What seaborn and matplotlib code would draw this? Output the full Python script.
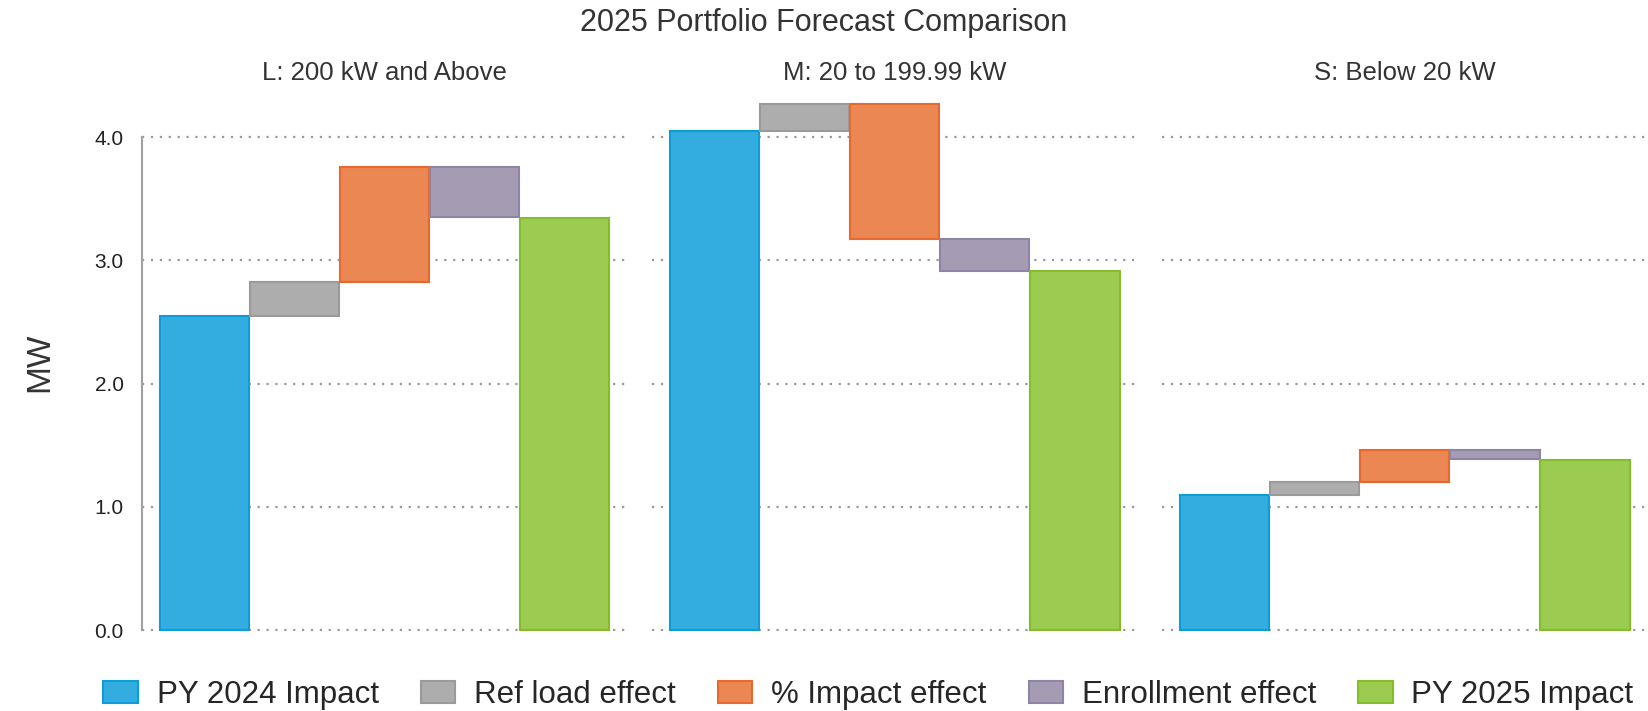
import numpy as np
import pandas as pd
import seaborn as sns
import matplotlib.pyplot as plt
from matplotlib.patches import Patch

# data (MW)
panels = ['L: 200 kW and Above', 'M: 20 to 199.99 kW', 'S: Below 20 kW']
steps = ['PY 2024 Impact', 'Ref load effect', '% Impact effect', 'Enrollment effect', 'PY 2025 Impact']
py2024 = [2.55, 4.05, 1.10]
ref_load = [0.27, 0.22, 0.10]
pct_impact = [0.94, -1.10, 0.26]
enrollment = [-0.41, -0.26, -0.07]
py2025 = [3.34, 2.91, 1.38]

fills = ['#33addf', '#adadad', '#eb8753', '#a59cb4', '#9bcb50']
edges = ['#0a9dd9', '#9a9a9a', '#e8692d', '#8e84a6', '#84bd2a']

sns.set_theme(style='white')
plt.rcParams['font.family'] = ['Liberation Sans', 'DejaVu Sans']

# waterfall table: base + height for each step
rows = []
for i, p in enumerate(panels):
    level = py2024[i]
    rows.append((p, steps[0], 0.0, py2024[i]))
    for s, d in zip(steps[1:4], [ref_load[i], pct_impact[i], enrollment[i]]):
        rows.append((p, s, min(level, level + d), abs(d)))
        level += d
    rows.append((p, steps[4], 0.0, py2025[i]))
df = pd.DataFrame(rows, columns=['panel', 'step', 'base', 'height'])

fig, axes = plt.subplots(1, 3, figsize=(16.48, 7.11), dpi=100, sharey=True)
fig.subplots_adjust(left=0.086, right=1.0, bottom=0.112, top=0.868, wspace=0.049)

for ax, p in zip(axes, panels):
    sub = df[df['panel'] == p]
    for k, s in enumerate(steps):
        r = sub[sub['step'] == s].iloc[0]
        sns.barplot(x=[s], y=[r['height']], order=steps, bottom=r['base'],
                    color=fills[k], saturation=1, edgecolor=edges[k],
                    linewidth=1.5, width=0.99, ax=ax)
    ax.set_xlim(-0.7, 4.7)
    ax.set_ylim(-0.01, 4.35)
    ax.set_yticks([0, 1, 2, 3, 4])
    ax.yaxis.grid(True, color='#999999', linestyle=(0, (1, 3)), linewidth=1.6)
    ax.set_axisbelow(True)
    ax.set_xticks([])
    ax.set_xlabel('')
    ax.set_ylabel('')
    ax.set_title(p, fontsize=18.5, color='#333333', pad=10)
    for sp in ax.spines.values():
        sp.set_visible(False)
    ax.tick_params(axis='y', length=0)

ax0 = axes[0]
ax0.spines['left'].set_visible(True)
ax0.spines['left'].set_color('#a0a0a0')
ax0.spines['left'].set_linewidth(1.5)
ax0.spines['left'].set_bounds(0, 4)
ax0.yaxis.set_major_formatter(plt.FormatStrFormatter('%.1f'))
ax0.tick_params(axis='y', length=11, width=1.2, color='#a0a0a0', labelsize=15, labelcolor='#222222', pad=2)
ax0.set_ylabel('MW', fontsize=24, color='#333333', labelpad=28)

fig.suptitle('2025 Portfolio Forecast Comparison', fontsize=22, color='#333333', y=0.968, va='center')

handles = [Patch(facecolor=f, edgecolor=e, linewidth=1.5) for f, e in zip(fills, edges)]
fig.legend(handles, steps, loc='center', bbox_to_anchor=(0.527, 0.023), ncol=5, frameon=False,
           fontsize=22.5, handlelength=1.1, handleheight=0.7, columnspacing=1.35, handletextpad=0.6)

fig.savefig('out.png', dpi=100)
